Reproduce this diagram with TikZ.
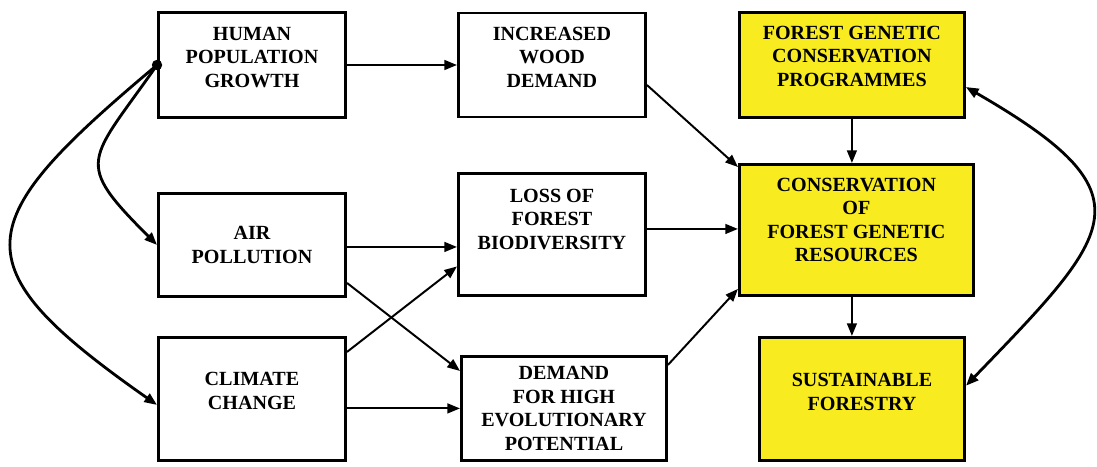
\documentclass[tikz,border=0pt]{standalone}
\usepackage{fontspec}
\setmainfont{Liberation Serif}[BoldFont={Liberation Serif Bold}]
\usepackage{tikz}
\usetikzlibrary{arrows.meta, positioning}
\definecolor{fgyellow}{RGB}{248,236,33}

\begin{document}
\begin{tikzpicture}[node distance=1cm, >={Triangle[length=9pt,width=7pt]},
        box/.style={draw, line width=2.1pt, align=center, inner sep=2pt,
            minimum width=4.675cm, minimum height=2.6cm,
            font=\rmfamily\bfseries\fontsize{14.3pt}{16.7pt}\selectfont},
        goal/.style={box, fill=fgyellow}]
        \useasboundingbox (0,0) rectangle (27.425,-11.65);

        \node (hum) [box, minimum height=2.625cm, text depth=0.4cm] at (6.3,-1.625) {HUMAN\\POPULATION\\GROWTH};
        \node (air) [box, minimum height=2.575cm, below=1.825cm of hum] {AIR\\POLLUTION};
        \node (clim) [box, minimum height=3.075cm, text depth=0.4cm, below=0.95cm of air] {CLIMATE\\CHANGE};

        \node (inc) [box, text depth=0.4cm, right=2.75cm of hum] {INCREASED\\WOOD\\DEMAND};
        \node (loss) [box, minimum height=3.05cm, text depth=0.8cm, below=1.35cm of inc] {LOSS OF\\FOREST\\BIODIVERSITY};
        \node (dem) [box, minimum width=5.125cm, right=2.825cm of clim.south east, anchor=south west] {DEMAND\\FOR HIGH\\EVOLUTIONARY\\POTENTIAL};

        \node (fgcp) [goal, minimum width=5.625cm, minimum height=2.625cm, text depth=0.45cm, right=2.275cm of inc] {FOREST GENETIC\\CONSERVATION\\PROGRAMMES};
        \node (cons) [goal, minimum width=5.85cm, minimum height=3.275cm, text depth=0.5cm, below=1.1cm of fgcp.south west, anchor=north west] {CONSERVATION\\OF\\FOREST GENETIC\\RESOURCES};
        \node (sust) [goal, minimum width=5.125cm, minimum height=3.075cm, text depth=0.35cm, below=0.975cm of cons, xshift=0.14cm] {SUSTAINABLE\\FORESTRY};

        \coordinate (dot) at (hum.west);
        \fill (dot) circle (0.13cm);

        \path [->, line width=1.4pt]
            (hum) edge (inc)
            ([yshift=-0.5cm]inc.east) edge ([yshift=-0.1cm]cons.north west)
            ([yshift=0.15cm]loss.east) edge ([yshift=0.15cm]loss.east -| cons.west)
            ([yshift=-0.25cm]dem.north east) edge ([yshift=0.2cm]cons.south west)
            ([yshift=-0.05cm]air.east) edge ([yshift=-0.05cm]air.east -| loss.west)
            ([yshift=0.375cm]air.south east) edge ([yshift=-0.4cm]dem.north west)
            ([yshift=-0.4cm]clim.north east) edge ([yshift=0.775cm]loss.south west)
            (dem.west -| clim.east) edge (dem.west)
            (fgcp.south) edge (fgcp.south |- cons.north)
            (fgcp.south |- cons.south) edge (fgcp.south |- sust.north);

        \path [->, line width=2pt]
            (dot) edge [out=235, in=135, looseness=1.7] (air.west)
            (dot) edge [out=220, in=145, looseness=1.85] ([yshift=-0.15cm]clim.west)
            ([yshift=-0.55cm]fgcp.east) edge [<->, out=-30, in=46, looseness=1.85] ([yshift=0.33cm]sust.east);
    \end{tikzpicture}
\end{document}
